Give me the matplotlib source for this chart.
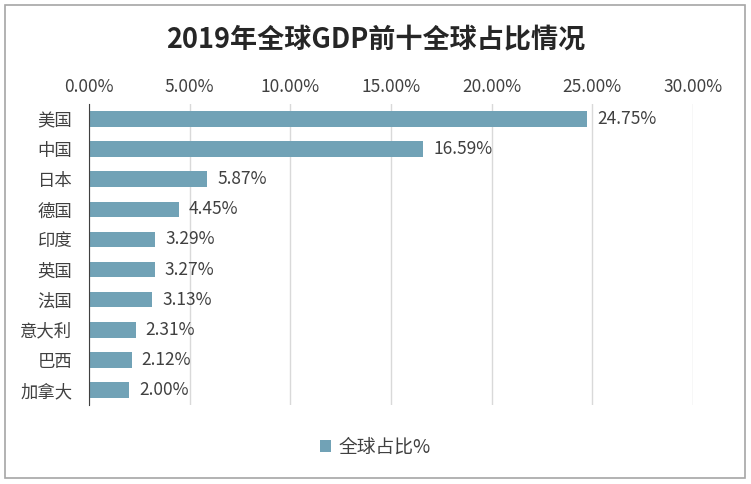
import matplotlib
matplotlib.use('Agg')
import matplotlib.pyplot as plt
from matplotlib.patches import Rectangle
from matplotlib.ticker import FuncFormatter

plt.rcParams['font.family'] = ['Noto Sans CJK SC', 'DejaVu Sans']

countries = ['美国', '中国', '日本', '德国', '印度', '英国', '法国', '意大利', '巴西', '加拿大']
shares = [24.75, 16.59, 5.87, 4.45, 3.29, 3.27, 3.13, 2.31, 2.12, 2.00]
ticks = [0, 5, 10, 15, 20, 25, 30]

bar_color = '#71A2B6'

fig = plt.figure(figsize=(7.51, 4.84), dpi=100)
ax = fig.add_axes([89 / 751, 1 - 405 / 484, 604 / 751, 301 / 484])

ypos = list(range(len(countries)))
ax.barh(ypos, shares, height=0.52, color=bar_color, label='全球占比%', zorder=3)
for y, v in zip(ypos, shares):
    ax.text(v + 0.5, y, '%.2f%%' % v, va='center', ha='left', fontsize=12.5, color='#404040')

ax.set_ylim(len(countries) - 0.5, -0.5)
ax.set_yticks(ypos)
ax.set_yticklabels(countries, fontsize=12.5, color='#404040')
ax.set_xlim(0, 30)
ax.set_xticks(ticks)
ax.xaxis.set_major_formatter(FuncFormatter(lambda x, p: '%.2f%%' % x))
ax.xaxis.tick_top()
ax.tick_params(axis='x', length=0, labelsize=12.5, labelcolor='#404040', pad=6)
ax.tick_params(axis='y', length=0, pad=12)
ax.grid(axis='x', color='#D9D9D9', linewidth=1, zorder=0)
for s in ['top', 'right', 'bottom']:
    ax.spines[s].set_visible(False)
ax.spines['left'].set_color('#404040')
ax.spines['left'].set_zorder(4)

fig.text(0.5, 1 - 40 / 484, '2019年全球GDP前十全球占比情况', ha='center', va='center',
         fontsize=19.5, fontweight='bold', color='#262626')

fig.legend(loc='center', bbox_to_anchor=(0.5, 1 - 447 / 484), frameon=False,
           fontsize=13.5, handlelength=0.6, handleheight=0.6, handletextpad=0.4,
           labelcolor='#404040')

fig.patches.append(Rectangle((5 / 751, 6 / 484), 740 / 751, 473 / 484, transform=fig.transFigure,
                             fill=False, edgecolor='#A6A6A6', linewidth=1.2))

fig.savefig('out.png', dpi=100)
